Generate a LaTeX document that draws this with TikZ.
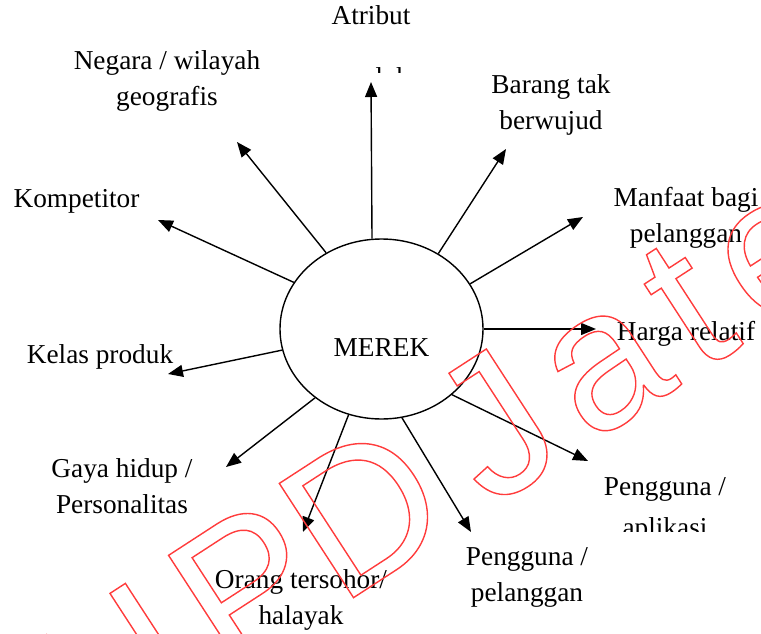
\documentclass[tikz,border=0pt]{standalone}
\usepackage{fontspec}
\setmainfont{Liberation Serif}
\newfontfamily\wmfont{Liberation Sans}
\usetikzlibrary{arrows.meta,shapes.geometric}

\definecolor{wmred}{RGB}{255,60,60}

% two centred lines whose baseline is that of the first line
\newcommand{\lblstack}[2]{\begin{tabular}[t]{@{}c@{}}#1\\#2\end{tabular}}
% extra gap between watermark letters
\newcommand{\wmgap}{\kern20pt}

\begin{document}
\begin{tikzpicture}[x=1pt,y=-1pt,
  lbl/.style={anchor=base, inner sep=0pt, font=\fontsize{27.3}{36}\selectfont},
  ray/.style={line width=1.4pt, -{Triangle[length=15pt,width=12pt]}},
  hub/.style={draw, ellipse, line width=1.4pt, minimum width=203pt,
              minimum height=180pt, inner sep=0pt}]

\useasboundingbox (0,0) rectangle (761,634);

% central brand ellipse
\node[hub] (m) at (381.5,329) {};
\node[lbl] (merek) at (381.5,356) {MEREK};

% labels around the ellipse
\node[lbl] (atr) at (371,25) {Atribut};
\begin{scope}
  \clip (300,60) rectangle (450,73);
  \node[lbl] (atr2) at (371,86.6) {produk};
\end{scope}
\node[lbl] (neg) at (167,70) {\lblstack{Negara / wilayah}{geografis}};
\node[lbl] (bar) at (551,93) {\lblstack{Barang tak}{berwujud}};
\node[lbl] (kom) at (76.5,207) {Kompetitor};
\node[lbl] (man) at (686,206) {\lblstack{Manfaat bagi}{pelanggan}};
\node[lbl] (kel) at (100,363) {Kelas produk};
\node[lbl] (har) at (686,340) {Harga relatif};
\node[lbl] (gay) at (122,477) {\lblstack{Gaya hidup /}{Personalitas}};
\node[lbl] (ora) at (301,588) {\lblstack{Orang tersohor/}{halayak}};
\node[lbl] (pel) at (527,565) {\lblstack{Pengguna /}{pelanggan}};
\begin{scope}
  \clip (560,460) rectangle (761,531.5);
  \node[lbl] (apl) at (665,495)
    {\begin{tabular}[t]{@{}c@{}}Pengguna /\\[5pt]aplikasi\end{tabular}};
\end{scope}

% arrow tips
\coordinate (t-atr) at (371,82);
\coordinate (t-neg) at (237,142);
\coordinate (t-bar) at (506,149);
\coordinate (t-kom) at (158,220);
\coordinate (t-man) at (583,217);
\coordinate (t-kel) at (168,374);
\coordinate (t-har) at (596,329);
\coordinate (t-gay) at (226,467);
\coordinate (t-ora) at (303,532);
\coordinate (t-pel) at (471,532);
\coordinate (t-apl) at (588,461);

% rays from the ellipse
\draw[ray] (m.96.7)  -- (t-atr);
\draw[ray] (m.126.6) -- (t-neg);
\draw[ray] (m.53.4)  -- (t-bar);
\draw[ray] (m.152.3) -- (t-kom);
\draw[ray] (m.27.5)  -- (t-man);
\draw[ray] (m.192.8) -- (t-kel);
\draw[ray] (m.0)     -- (t-har);
\draw[ray] (m.226.5) -- (t-gay);
\draw[ray] (m.249.6) -- (t-ora);
\draw[ray] (m.283.6) -- (t-pel);
\draw[ray] (m.317.7) -- (t-apl);

% outlined watermark
\begin{scope}
  \clip (0,0) rectangle (761,634);
  \node[rotate=33, anchor=base west, inner sep=0pt, text=wmred,
        font=\wmfont\fontsize{198}{198}\selectfont] (wm) at (92.3,767.3)
    {\special{pdf:literal direct 1 Tr 1.4 w}%
     U\wmgap P\kern0pt D\kern36pt J\wmgap a\wmgap t\wmgap e\wmgap n\wmgap g%
     \special{pdf:literal direct 0 Tr}};
\end{scope}

\end{tikzpicture}
\end{document}
